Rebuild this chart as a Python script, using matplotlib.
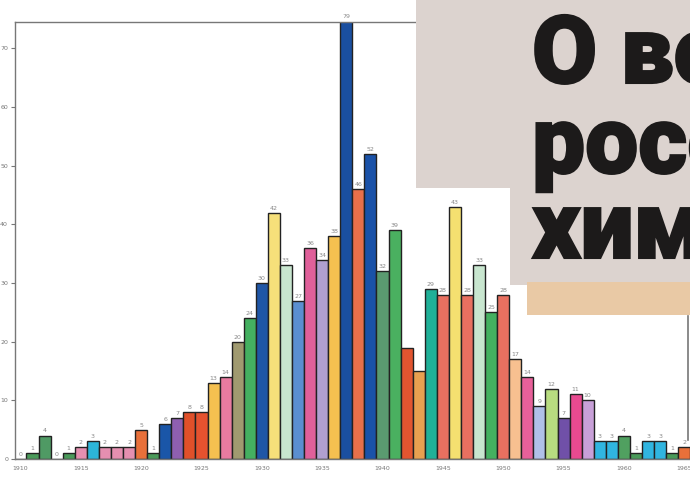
import matplotlib
matplotlib.use("Agg")
import matplotlib.pyplot as plt
from matplotlib.patches import Polygon, Rectangle
from matplotlib.lines import Line2D
import matplotlib.patheffects as pe

years = list(range(1910, 1966))
values = [0, 1, 4, 0, 1, 2, 3, 2, 2, 2,
          5, 1, 6, 7, 8, 8, 13, 14, 20, 24,
          30, 42, 33, 27, 36, 34, 38, 79, 46, 52,
          32, 39, 19, 15, 29, 28, 43, 28, 33, 25,
          28, 17, 14, 9, 12, 7, 11, 10, 3, 3,
          4, 1, 3, 3, 1, 2]
show_label = [True] * len(values)
show_label[years.index(1942)] = False
show_label[years.index(1943)] = False
colors = ['#4a9a5a', '#4a9a5a', '#4f9a64', '#4a9a5a', '#4a9a5a', '#e58fb0', '#2cb5d8', '#e58fb0', '#e58fb0', '#e58fb0',
          '#e8703a', '#4a9a5a', '#1a56a8', '#8e5fb0', '#e0502a', '#e5522f', '#f5c050', '#e87ba0', '#a09a70', '#44b060',
          '#1f56a6', '#f6e07a', '#c8e6cf', '#5a8fd0', '#e0609a', '#b0a0d0', '#f5c050', '#1a4fa0', '#e8704a', '#1a52a8',
          '#5a9a70', '#4ab060', '#e25530', '#e8a050', '#20b098', '#e87060', '#f5e070', '#e87060', '#c8e6cf', '#44b060',
          '#e87060', '#f7c090', '#e8609a', '#b0c0e8', '#b8dc80', '#7050a8', '#e84a90', '#c8a0d8', '#30b5e0', '#30b5e0',
          '#50a060', '#4a9a5a', '#30b5e0', '#30b5e0', '#4a9a5a', '#e8703a']
xtick_years = [1910, 1915, 1920, 1925, 1930, 1935, 1940, 1945, 1950, 1955, 1960, 1965]
yticks = [0, 10, 20, 30, 40, 50, 60, 70]
title_lines = ["О вос", "росс", "хими"]

W, H = 690, 480
fig = plt.figure(figsize=(6.9, 4.8), dpi=100)
ax = fig.add_axes([15 / W, 21 / H, 693.4 / W, 437.5 / H])
ax.bar(years, values, width=1.0, color=colors, edgecolor='#222222', linewidth=1.0, zorder=2)
ytop = 74.6
ax.set_xlim(1909.55, 1967)
ax.set_ylim(0, ytop)
for y, v, s in zip(years, values, show_label):
    if s:
        ax.annotate(str(v), (y, min(v, ytop)), xytext=(0, 1.5), textcoords='offset points',
                    ha='center', va='bottom', fontsize=4.5, color='#888888', clip_on=False,
                    annotation_clip=False)

ax.set_xticks(xtick_years)
ax.set_xticklabels([str(y) for y in xtick_years])
ax.set_yticks(yticks)
ax.tick_params(axis='x', length=0, labelsize=4.5, labelcolor='#777777', pad=5)
ax.tick_params(axis='y', length=3, width=0.8, color='#777777', labelsize=4.5, labelcolor='#777777', pad=2)
for side in ['left', 'bottom', 'top']:
    ax.spines[side].set_color('#777777')
    ax.spines[side].set_linewidth(1.0)
ax.spines['right'].set_visible(False)


def fx(px):
    return px / W


def fy(py):
    return 1 - py / H


box = Polygon([(fx(416), fy(0)), (fx(690), fy(0)), (fx(690), fy(285)), (fx(510), fy(285)),
               (fx(510), fy(188)), (fx(416), fy(188))], closed=True,
              transform=fig.transFigure, facecolor='#dcd3cf', edgecolor='none', zorder=10)
fig.patches.append(box)
stripe = Rectangle((fx(527), fy(315)), fx(690) - fx(527), fy(282) - fy(315),
                   transform=fig.transFigure, facecolor='#e9c9a5', edgecolor='none', zorder=11)
fig.patches.append(stripe)
fig.add_artist(Line2D([fx(688), fx(688)], [fy(316), fy(440)], transform=fig.transFigure,
                      color='#777777', linewidth=1.2, zorder=11))

baselines = [83, 173, 258]
for line, b in zip(title_lines, baselines):
    fig.text(fx(532), fy(b), line, fontsize=68, fontweight='black',
             family=['Roboto', 'DejaVu Sans'],
             color='#1c1a1a', ha='left', va='baseline', zorder=12,
             path_effects=[pe.withStroke(linewidth=1.5, foreground='#1c1a1a', joinstyle='miter')])

fig.savefig('out.png', dpi=100)
